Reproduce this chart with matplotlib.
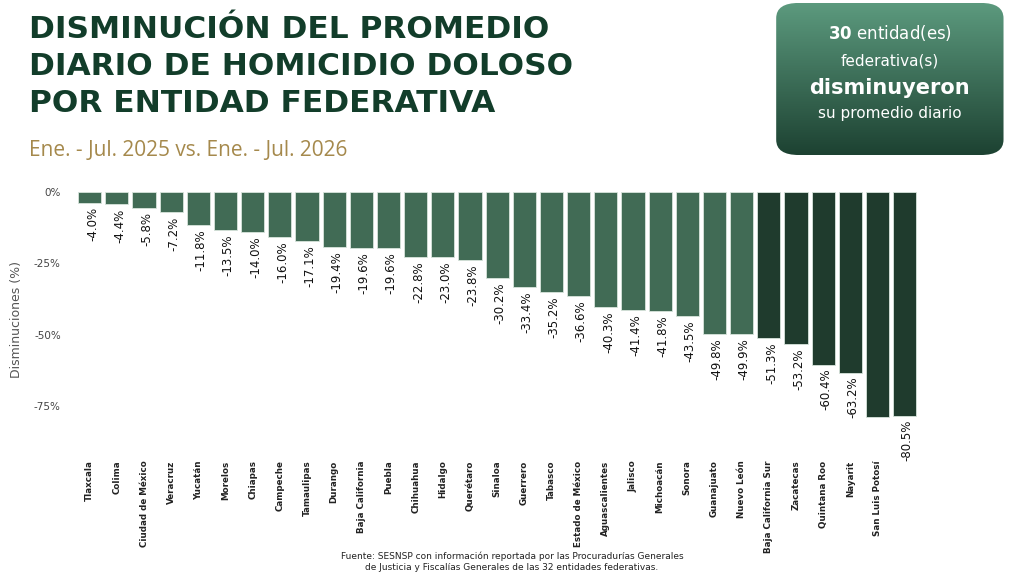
import numpy as np
import matplotlib.pyplot as plt
from matplotlib.patches import FancyBboxPatch

## Data
estados = ['Tlaxcala', 'Colima', 'Ciudad de México', 'Veracruz', 'Yucatán', 'Morelos',
           'Chiapas', 'Campeche', 'Tamaulipas', 'Durango', 'Baja California', 'Puebla',
           'Chihuahua', 'Hidalgo', 'Querétaro', 'Sinaloa', 'Guerrero', 'Tabasco',
           'Estado de México', 'Aguascalientes', 'Jalisco', 'Michoacán', 'Sonora',
           'Guanajuato', 'Nuevo León', 'Baja California Sur', 'Zacatecas',
           'Quintana Roo', 'Nayarit', 'San Luis Potosí', '']
valores = [-4.0, -4.4, -5.8, -7.2, -11.8, -13.5, -14.0, -16.0, -17.1, -19.4, -19.6, -19.6,
           -22.8, -23.0, -23.8, -30.2, -33.4, -35.2, -36.6, -40.3, -41.4, -41.8, -43.5,
           -49.8, -49.9, -51.3, -53.2, -60.4, -63.2, -78.8, -78.3]
etiquetas = ['%.1f%%' % v for v in valores]
etiquetas[29] = ''  # no label shown for this bar in the original
etiquetas[30] = '-80.5%'
yticks = [0, -25, -50, -75]
ytick_labels = ['0%', '-25%', '-50%', '-75%']

light = '#416b55'
dark = '#1f3b2d'
colores = [light] * 25 + [dark] * 6

fig = plt.figure(figsize=(10.24, 5.85), dpi=100)
fig.patch.set_facecolor('white')

## Titles
fig.text(0.028, 0.975, 'DISMINUCIÓN DEL PROMEDIO\nDIARIO DE HOMICIDIO DOLOSO\nPOR ENTIDAD FEDERATIVA',
         ha='left', va='top', fontsize=22.5, fontweight='heavy', color='#123d2a',
         family='DejaVu Sans', linespacing=1.36)
fig.text(0.028, 0.742, 'Ene. - Jul. 2025 vs. Ene. - Jul. 2026', ha='left', va='center',
         fontsize=15, color='#a5894c', family='Open Sans')

## Box top right with gradient
bax = fig.add_axes([0.758, 0.735, 0.222, 0.26])
bax.set_axis_off()
grad = np.linspace(0, 1, 100).reshape(-1, 1)
im = bax.imshow(grad, aspect='auto', extent=(0, 1, 0, 1), origin='lower',
                cmap=plt.matplotlib.colors.LinearSegmentedColormap.from_list('g', ['#1d4232', '#5c9a7e']))
clip = FancyBboxPatch((0, 0), 1, 1, boxstyle='round,pad=0,rounding_size=0.1',
                      transform=bax.transAxes, facecolor='none', edgecolor='none')
bax.add_patch(clip)
im.set_clip_path(clip)
bax.text(0.5, 0.8, r'$\mathbf{30}$ entidad(es)', ha='center', va='center', fontsize=12, color='white')
bax.text(0.5, 0.615, 'federativa(s)', ha='center', va='center', fontsize=11, color='white')
bax.text(0.5, 0.44, 'disminuyeron', ha='center', va='center', fontsize=15, fontweight='bold', color='white')
bax.text(0.5, 0.27, 'su promedio diario', ha='center', va='center', fontsize=11, color='white')

## Chart
ax = fig.add_axes([0.073, 0.232, 0.825, 0.443])
x = range(len(valores))
ax.bar(x, valores, width=0.85, color=colores, edgecolor='#d8e4dc', linewidth=0.6)
for i, v in enumerate(valores):
    if etiquetas[i]:
        ax.text(i + 0.1, v - 1.5, etiquetas[i], rotation=90, ha='center', va='top',
                fontsize=8.5, color='#111111')
ax.set_ylim(-90, 0.5)
ax.set_xlim(-0.55, len(valores) - 0.45)
ax.set_yticks(yticks)
ax.set_yticklabels(ytick_labels, fontsize=7.5, color='#444444')
ax.set_xticks(list(x))
ax.set_xticklabels(estados, rotation=90, fontsize=6.3, fontweight='bold', color='#222222')
ax.tick_params(length=0, pad=10)
ax.tick_params(axis='x', pad=8)
ax.set_ylabel('Disminuciones (%)', fontsize=9, color='#555555', labelpad=8)
for s in ax.spines.values():
    s.set_visible(False)

fig.text(0.5, 0.04, 'Fuente: SESNSP con información reportada por las Procuradurías Generales\n'
         'de Justicia y Fiscalías Generales de las 32 entidades federativas.',
         ha='center', va='center', fontsize=6.5, color='#222222')

fig.savefig('out.png', dpi=100)
